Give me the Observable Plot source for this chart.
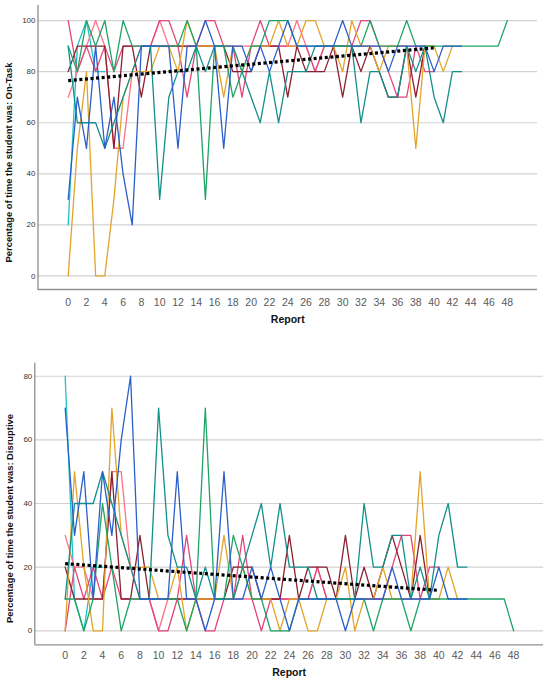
<!DOCTYPE html>
<html><head><meta charset="utf-8">
<script src="https://cdn.jsdelivr.net/npm/d3@7"></script>
<script src="https://cdn.jsdelivr.net/npm/@observablehq/plot@0.6"></script>
<style>body{margin:0;background:#fff;} #chart svg{display:block;}</style>
</head><body><div id="chart"></div>
<script>
// ---- tick labels ----
const reportTicks = [0,2,4,6,8,10,12,14,16,18,20,22,24,26,28,30,32,34,36,38,40,42,44,46,48];
const onTaskTicks = [0,20,40,60,80,100];
const disruptiveTicks = [0,20,40,60,80];

// ---- students (series) ----
const studentNames = ["Student 1","Student 2","Student 3","Student 4","Student 5","Student 6","Student 7","Student 8"];
const studentColors = ["#1fc3c7","#ff7088","#e2467c","#8c1f30","#e3a42a","#1fa466","#12908b","#2b5fca"];

// ---- On-Task (% of time), by report index ----
const onTaskS1 = [20,90,100,80,80];
const onTaskS2 = [70,80,90,100,90,50,50,80,90,90,100,90,90,90,90,90,90,90,90,90,90,90,90,90,90,100,90,80,90,90,90,90,90,90,90,90,90,90,90,90,90];
const onTaskS3 = [100,80,90,80,90,80,90,90,90,90,100,100,90,70,90,100,100,90,90,70,90,100,90,90,90,90,90,80,90,90,90,90,100,100,90,80,70,70,90,80,80];
const onTaskS4 = [80,90,90,90,90,50,90,90,70,90,90,90,90,90,90,90,90,90,80,80,80,90,90,90,70,90,80,80,80,90,70,90,80,90,80,70,70,90,70,90];
const onTaskS5 = [0,50,80,0,0,30,70,80,80,80,90,90,80,100,90,90,90,70,90,80,90,90,90,100,90,90,100,100,90,90,80,100,90,90,80,90,90,90,50,90,90,80,90];
const onTaskS6 = [90,80,100,90,100,80,100,90,90,90,90,90,90,100,90,30,90,90,70,80,90,90,100,100,100,90,90,90,90,90,90,90,90,100,90,90,90,100,90,90,90,90,90,90,90,90,90,90,100];
const onTaskS7 = [90,60,60,60,50,60,70,80,90,90,30,70,80,80,90,80,90,90,90,80,70,60,80,60,80,80,80,90,90,90,90,90,60,80,80,70,70,90,80,90,70,60,80,80];
const onTaskS8 = [30,70,50,90,50,70,40,20,90,90,90,90,50,90,90,100,90,50,90,90,80,90,80,90,100,90,90,90,90,90,100,90,90,90,90,80,90,90,90,90,80,90,90,90];

// ---- Disruptive (% of time), by report index ----
const disruptiveS1 = [80,10,0,20,20];
const disruptiveS2 = [30,20,20,10,10,50,50,20,10,10,0,10,10,10,10,10,10,10,10,10,10,10,10,10,10,10,10,20,10,10,10,10,10,10,10,10,10,10,10,10,10];
const disruptiveS3 = [0,20,10,20,10,20,10,10,10,10,0,0,10,30,10,0,0,10,10,30,10,0,10,10,10,10,10,20,10,10,10,10,10,10,10,20,30,30,10,20,20];
const disruptiveS4 = [20,10,10,10,10,50,10,10,30,10,10,10,10,10,10,10,10,10,20,20,20,10,10,10,30,10,20,20,20,10,30,10,20,10,20,30,20,10,30,10];
const disruptiveS5 = [0,50,20,0,0,70,30,20,20,20,10,10,20,0,10,10,10,30,10,20,10,10,10,0,10,10,0,0,10,10,20,0,10,10,20,10,10,10,50,10,10,20,10];
const disruptiveS6 = [10,10,0,10,40,20,0,10,10,10,10,10,10,0,10,70,10,10,30,20,10,10,0,0,0,10,10,10,10,10,10,10,10,0,10,10,10,0,10,10,10,10,10,10,10,10,10,10,0];
const disruptiveS7 = [10,40,40,40,50,40,30,20,10,10,70,30,20,20,10,20,10,10,10,20,30,40,20,40,20,20,20,10,10,10,10,10,40,20,20,30,30,10,20,10,30,40,20,20];
const disruptiveS8 = [70,30,50,10,50,30,60,80,10,10,10,10,50,10,10,0,10,50,10,10,20,10,20,10,0,10,10,10,10,10,0,10,10,10,10,20,10,10,10,10,20,10,10,10];

// ---- linear trend ----
const trendReports = [0, 40];
const onTaskTrend = [76.5, 89.3];
const disruptiveTrend = [21.1, 12.7];

// ---- titles ----
const onTaskTitle = "Percentage of time the student was: On-Task";
const disruptiveTitle = "Percentage of time the student was: Disruptive";
const xTitle = "Report";

function toRows(seriesList) {
  const rows = [];
  seriesList.forEach((vals, s) => vals.forEach((v, i) => rows.push({student: studentNames[s], report: i, value: v})));
  return rows;
}
const trendRows = (vals) => trendReports.map((r, i) => ({report: r, value: vals[i]}));

const font = "'Liberation Sans', Arial, sans-serif";

function panel({rows, trend, ticks, title, xDomain, yDomain, height, margins, xPad, titleDx, titleDy, xTitleDy}) {
  return Plot.plot({
    width: 550,
    height,
    marginLeft: margins[0], marginRight: margins[1], marginTop: margins[2], marginBottom: margins[3],
    style: {fontFamily: font, background: "#fff"},
    x: {domain: xDomain},
    y: {domain: yDomain},
    color: {type: "ordinal", domain: studentNames, range: studentColors},
    marks: [
      Plot.ruleY(ticks, {stroke: "#d2d2d2", strokeWidth: 1.2}),
      Plot.ruleX([xDomain[0]], {stroke: "#8f8f8f", strokeWidth: 1.3}),
      Plot.ruleY([yDomain[0]], {stroke: "#8f8f8f", strokeWidth: 1.3}),
      Plot.axisY(ticks, {tickSize: 0, tickPadding: 2.5, fontSize: 8, color: "#333", label: null}),
      Plot.axisX(reportTicks, {tickSize: 0, tickPadding: xPad, fontSize: 10.5, color: "#5a5a5a", label: null}),
      Plot.line(rows, {x: "report", y: "value", z: "student", stroke: "student", strokeWidth: 1.3}),
      Plot.line(trend, {x: "report", y: "value", stroke: "#000", strokeWidth: 3.2, strokeDasharray: "3,2.6", strokeLinecap: "butt"}),
      Plot.text([title], {frameAnchor: "left", textAnchor: "middle", rotate: -90, dx: titleDx, dy: titleDy, fontSize: 9.4, fontWeight: "bold", fill: "#111"}),
      Plot.text([xTitle], {frameAnchor: "bottom", textAnchor: "middle", dy: xTitleDy, fontSize: 10.5, fontWeight: "bold", fill: "#111"})
    ]
  });
}

const onTaskChart = panel({
  rows: toRows([onTaskS1, onTaskS2, onTaskS3, onTaskS4, onTaskS5, onTaskS6, onTaskS7, onTaskS8]),
  trend: trendRows(onTaskTrend),
  ticks: onTaskTicks,
  title: onTaskTitle,
  xDomain: [-3.3, 51.3], yDomain: [-5.3, 105.9],
  height: 340, margins: [37.5, 13, 5, 51],
  xPad: 9, titleDx: -28.8, titleDy: 15, xTitleDy: 33
});
const disruptiveChart = panel({
  rows: toRows([disruptiveS1, disruptiveS2, disruptiveS3, disruptiveS4, disruptiveS5, disruptiveS6, disruptiveS7, disruptiveS8]),
  trend: trendRows(disruptiveTrend),
  ticks: disruptiveTicks,
  title: disruptiveTitle,
  xDomain: [-3.25, 51.2], yDomain: [-4.4, 84.1],
  height: 346, margins: [34.3, 7, 22.7, 41.7],
  xPad: 7, titleDx: -25.1, titleDy: 14.5, xTitleDy: 31.5
});
document.getElementById("chart").append(onTaskChart, disruptiveChart);
</script>
</body></html>
